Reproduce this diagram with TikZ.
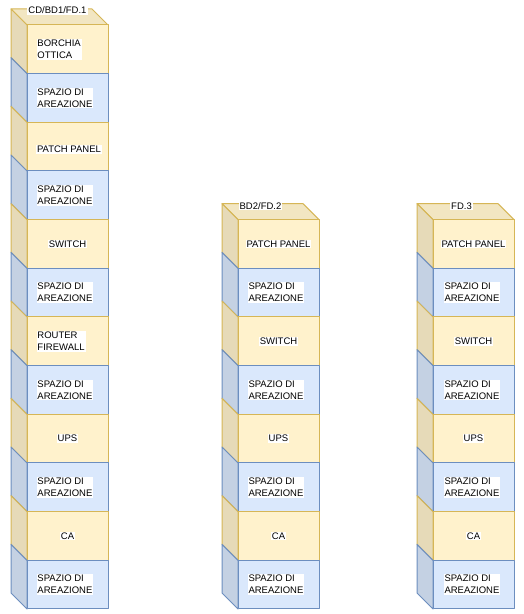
\documentclass[tikz,border=0pt]{standalone}
\usepackage{fontspec}
\setmainfont{Liberation Sans}
\usepackage{tikz}

\begin{document}
\begin{tikzpicture}[x=1pt,y=1pt,
  yfront/.style={draw=yellowDraw,fill=yellowFill,line width=1pt,line join=round},
  yside/.style={draw=yellowDraw,fill=yellowSide,line width=1pt,line join=round},
  ytop/.style={draw=yellowDraw,fill=yellowTop,line width=1pt,line join=round},
  bfront/.style={draw=blueDraw,fill=blueFill,line width=1pt,line join=round},
  bside/.style={draw=blueDraw,fill=blueSide,line width=1pt,line join=round},
  lbl/.style={fill=white,inner sep=1pt,outer sep=0pt,font=\fontsize{9.5}{12}\selectfont,align=left},
  rackname/.style={fill=white,inner sep=1pt,outer sep=0pt,font=\fontsize{9.5}{12}\selectfont}]
\definecolor{fillColor}{RGB}{255,255,255}
\definecolor{yellowFill}{RGB}{255,242,204}
\definecolor{yellowSide}{RGB}{230,218,184}
\definecolor{yellowTop}{RGB}{242,230,194}
\definecolor{yellowDraw}{RGB}{214,182,86}
\definecolor{blueFill}{RGB}{218,232,252}
\definecolor{blueSide}{RGB}{196,209,227}
\definecolor{blueDraw}{RGB}{108,142,191}
\path[use as bounding box,fill=fillColor] (0,0) rectangle (524,614);

% rack CD/BD1/FD.1
\path[ytop] (11,605.00) -- (92,605.00) -- (108,589.00) -- (27,589.00) -- cycle;

\path[yside] (11,605.00) -- (27,589.00) -- (27,540.33) -- (11,556.33) -- cycle;
\path[yfront] (27,540.33) rectangle (108,589.00);

\path[bside] (11,556.33) -- (27,540.33) -- (27,491.67) -- (11,507.67) -- cycle;
\path[bfront] (27,491.67) rectangle (108,540.33);

\path[yside] (11,507.67) -- (27,491.67) -- (27,443.00) -- (11,459.00) -- cycle;
\path[yfront] (27,443.00) rectangle (108,491.67);

\path[bside] (11,459.00) -- (27,443.00) -- (27,394.33) -- (11,410.33) -- cycle;
\path[bfront] (27,394.33) rectangle (108,443.00);

\path[yside] (11,410.33) -- (27,394.33) -- (27,345.67) -- (11,361.67) -- cycle;
\path[yfront] (27,345.67) rectangle (108,394.33);

\path[bside] (11,361.67) -- (27,345.67) -- (27,297.00) -- (11,313.00) -- cycle;
\path[bfront] (27,297.00) rectangle (108,345.67);

\path[yside] (11,313.00) -- (27,297.00) -- (27,248.33) -- (11,264.33) -- cycle;
\path[yfront] (27,248.33) rectangle (108,297.00);

\path[bside] (11,264.33) -- (27,248.33) -- (27,199.67) -- (11,215.67) -- cycle;
\path[bfront] (27,199.67) rectangle (108,248.33);

\path[yside] (11,215.67) -- (27,199.67) -- (27,151.00) -- (11,167.00) -- cycle;
\path[yfront] (27,151.00) rectangle (108,199.67);

\path[bside] (11,167.00) -- (27,151.00) -- (27,102.33) -- (11,118.33) -- cycle;
\path[bfront] (27,102.33) rectangle (108,151.00);

\path[yside] (11,118.33) -- (27,102.33) -- (27,53.67) -- (11,69.67) -- cycle;
\path[yfront] (27,53.67) rectangle (108,102.33);

\path[bside] (11,69.67) -- (27,53.67) -- (27,5.00) -- (11,21.00) -- cycle;
\path[bfront] (27,5.00) rectangle (108,53.67);

% rack BD2/FD.2
\path[ytop] (222,410.33) -- (303,410.33) -- (319,394.33) -- (238,394.33) -- cycle;

\path[yside] (222,410.33) -- (238,394.33) -- (238,345.67) -- (222,361.67) -- cycle;
\path[yfront] (238,345.67) rectangle (319,394.33);

\path[bside] (222,361.67) -- (238,345.67) -- (238,297.00) -- (222,313.00) -- cycle;
\path[bfront] (238,297.00) rectangle (319,345.67);

\path[yside] (222,313.00) -- (238,297.00) -- (238,248.33) -- (222,264.33) -- cycle;
\path[yfront] (238,248.33) rectangle (319,297.00);

\path[bside] (222,264.33) -- (238,248.33) -- (238,199.67) -- (222,215.67) -- cycle;
\path[bfront] (238,199.67) rectangle (319,248.33);

\path[yside] (222,215.67) -- (238,199.67) -- (238,151.00) -- (222,167.00) -- cycle;
\path[yfront] (238,151.00) rectangle (319,199.67);

\path[bside] (222,167.00) -- (238,151.00) -- (238,102.33) -- (222,118.33) -- cycle;
\path[bfront] (238,102.33) rectangle (319,151.00);

\path[yside] (222,118.33) -- (238,102.33) -- (238,53.67) -- (222,69.67) -- cycle;
\path[yfront] (238,53.67) rectangle (319,102.33);

\path[bside] (222,69.67) -- (238,53.67) -- (238,5.00) -- (222,21.00) -- cycle;
\path[bfront] (238,5.00) rectangle (319,53.67);

% rack FD.3
\path[ytop] (417,410.33) -- (498,410.33) -- (514,394.33) -- (433,394.33) -- cycle;

\path[yside] (417,410.33) -- (433,394.33) -- (433,345.67) -- (417,361.67) -- cycle;
\path[yfront] (433,345.67) rectangle (514,394.33);

\path[bside] (417,361.67) -- (433,345.67) -- (433,297.00) -- (417,313.00) -- cycle;
\path[bfront] (433,297.00) rectangle (514,345.67);

\path[yside] (417,313.00) -- (433,297.00) -- (433,248.33) -- (417,264.33) -- cycle;
\path[yfront] (433,248.33) rectangle (514,297.00);

\path[bside] (417,264.33) -- (433,248.33) -- (433,199.67) -- (417,215.67) -- cycle;
\path[bfront] (433,199.67) rectangle (514,248.33);

\path[yside] (417,215.67) -- (433,199.67) -- (433,151.00) -- (417,167.00) -- cycle;
\path[yfront] (433,151.00) rectangle (514,199.67);

\path[bside] (417,167.00) -- (433,151.00) -- (433,102.33) -- (417,118.33) -- cycle;
\path[bfront] (433,102.33) rectangle (514,151.00);

\path[yside] (417,118.33) -- (433,102.33) -- (433,53.67) -- (417,69.67) -- cycle;
\path[yfront] (433,53.67) rectangle (514,102.33);

\path[bside] (417,69.67) -- (433,53.67) -- (433,5.00) -- (417,21.00) -- cycle;
\path[bfront] (433,5.00) rectangle (514,53.67);

% labels
\node[rackname] (t1) at ( 57.50,603.50) {CD/BD1/FD.1};
\node[rackname] (t2) at (260.50,408.00) {BD2/FD.2};
\node[rackname] (t3) at (461.50,408.00) {FD.3};

\node[lbl,anchor=west] (r1n1) at ( 36.50,564.67) {BORCHIA\\OTTICA};
\node[lbl,anchor=west] (r1n2) at ( 36.50,516.00) {SPAZIO DI\\AREAZIONE};
\node[lbl] (r1n3) at ( 69.00,464.50) {PATCH PANEL};
\node[lbl,anchor=west] (r1n4) at ( 36.50,418.67) {SPAZIO DI\\AREAZIONE};
\node[lbl] (r1n5) at ( 67.50,370.00) {SWITCH};
\node[lbl,anchor=west] (r1n6) at ( 36.50,321.33) {SPAZIO DI\\AREAZIONE};
\node[lbl,anchor=west] (r1n7) at ( 36.50,272.67) {ROUTER\\FIREWALL};
\node[lbl,anchor=west] (r1n8) at ( 36.50,224.00) {SPAZIO DI\\AREAZIONE};
\node[lbl] (r1n9) at ( 67.50,175.33) {UPS};
\node[lbl,anchor=west] (r1n10) at ( 36.50,126.67) {SPAZIO DI\\AREAZIONE};
\node[lbl] (r1n11) at ( 67.50, 78.00) {CA};
\node[lbl,anchor=west] (r1n12) at ( 36.50, 29.33) {SPAZIO DI\\AREAZIONE};

\node[lbl] (r2n1) at (278.50,370.00) {PATCH PANEL};
\node[lbl,anchor=west] (r2n2) at (247.50,321.33) {SPAZIO DI\\AREAZIONE};
\node[lbl] (r2n3) at (278.50,272.67) {SWITCH};
\node[lbl,anchor=west] (r2n4) at (247.50,224.00) {SPAZIO DI\\AREAZIONE};
\node[lbl] (r2n5) at (278.50,175.33) {UPS};
\node[lbl,anchor=west] (r2n6) at (247.50,126.67) {SPAZIO DI\\AREAZIONE};
\node[lbl] (r2n7) at (278.50, 78.00) {CA};
\node[lbl,anchor=west] (r2n8) at (247.50, 29.33) {SPAZIO DI\\AREAZIONE};

\node[lbl] (r3n1) at (473.50,370.00) {PATCH PANEL};
\node[lbl,anchor=west] (r3n2) at (443.50,321.33) {SPAZIO DI\\AREAZIONE};
\node[lbl] (r3n3) at (473.50,272.67) {SWITCH};
\node[lbl,anchor=west] (r3n4) at (443.50,224.00) {SPAZIO DI\\AREAZIONE};
\node[lbl] (r3n5) at (473.50,175.33) {UPS};
\node[lbl,anchor=west] (r3n6) at (443.50,126.67) {SPAZIO DI\\AREAZIONE};
\node[lbl] (r3n7) at (473.50, 78.00) {CA};
\node[lbl,anchor=west] (r3n8) at (443.50, 29.33) {SPAZIO DI\\AREAZIONE};
\end{tikzpicture}
\end{document}
